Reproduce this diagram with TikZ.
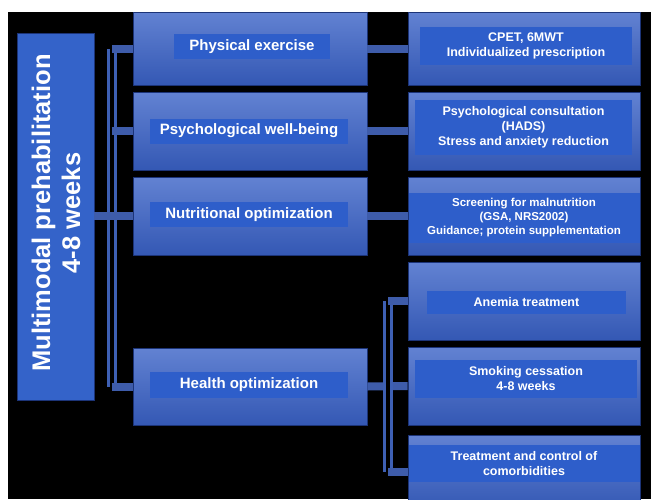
\documentclass[tikz,border=0pt]{standalone}
\usepackage{fontspec}
\setmainfont{Liberation Sans}
\definecolor{boxtop}{RGB}{98,130,210}
\definecolor{boxbot}{RGB}{52,88,180}
\definecolor{labfill}{RGB}{46,94,202}
\definecolor{mainfill}{RGB}{52,99,201}
\definecolor{barc}{RGB}{62,96,180}
\definecolor{stubc}{RGB}{62,92,170}
\definecolor{boxedge}{RGB}{28,52,120}
\begin{document}
\begin{tikzpicture}[x=1pt,y=-1pt,
  boxtwo/.style={draw=boxedge, line width=0.8pt, top color=boxtop, bottom color=boxbot, minimum width=234pt, inner sep=0pt},
  boxthree/.style={draw=boxedge, line width=0.8pt, top color=boxtop, bottom color=boxbot, minimum width=232pt, inner sep=0pt},
  labtwo/.style={fill=labfill, text=white, font=\bfseries\fontsize{15}{18}\selectfont, align=center, inner sep=0pt, minimum height=25pt},
  labthree/.style={fill=labfill, text=white, font=\bfseries\fontsize{12.5}{15}\selectfont, align=center, inner sep=0pt},
  bar/.style={draw=barc, line width=3pt, double=black, double distance=4.5pt},
  stub/.style={draw=stubc, line width=8pt}]
\useasboundingbox (0,0) rectangle (651,499);
\fill[black] (8,12) rectangle (651,499);
\begin{scope}
\clip (8,12) rectangle (651,499);
% coordinates for brackets
\coordinate (k1) at (112,0);
\coordinate (k2) at (388,0);
% level 1
\node[draw=boxedge, line width=0.8pt, fill=mainfill, minimum width=77pt, minimum height=367pt, inner sep=0pt] (main) at (55.5,216.5) {};
\node[rotate=90, text=white, font=\bfseries\fontsize{25.5}{30}\selectfont, align=center] (maint) at (56,213) {Multimodal prehabilitation\\4-8 weeks};
% level 2 boxes
\node[boxtwo, minimum height=73pt] (pe) at (250,48.5) {};
\node[boxtwo, minimum height=78pt] (pw) at (250,131) {};
\node[boxtwo, minimum height=78pt] (no) at (250,216) {};
\node[boxtwo, minimum height=77pt] (ho) at (250,386.5) {};
% right boxes
\node[boxthree, minimum height=73pt] (cp) at (524,48.5) {};
\node[boxthree, minimum height=78pt] (pc) at (524,131) {};
\node[boxthree, minimum height=78pt] (sm) at (524,216) {};
\node[boxthree, minimum height=78pt] (an) at (524,301) {};
\node[boxthree, minimum height=78pt] (sc) at (524,386) {};
\node[boxthree, minimum height=74pt] (tr) at (524,472) {};
% connectors
\draw[bar] (pe.west -| k1) -- (ho.west -| k1);
\draw[stub] (pe.west -| k1) -- (pe.west);
\draw[stub] (pw.west -| k1) -- (pw.west);
\draw[stub] (ho.west -| k1) -- (ho.west);
\draw[stub] (main.east |- no.west) -- (no.west);
\draw[stub] (pe.east) -- (cp.west);
\draw[stub] (pw.east) -- (pc.west);
\draw[stub] (no.east) -- (sm.west);
\draw[stub] (ho.east) -- (sc.west);
\draw[bar] (an.west -| k2) -- (tr.west -| k2);
\draw[stub] (an.west -| k2) -- (an.west);
\draw[stub] (tr.west -| k2) -- (tr.west);
% labels level 2
\node[labtwo, minimum width=156pt] (pel) at (252,46.5) {Physical exercise};
\node[labtwo, minimum width=198pt] (pwl) at (249,131) {Psychological well-being};
\node[labtwo, minimum width=198pt] (nol) at (249,214.5) {Nutritional optimization};
\node[labtwo, minimum width=198pt, minimum height=26pt] (hol) at (249,385) {Health optimization};
% labels right
\node[labthree, minimum width=212pt, minimum height=38pt] (cpl) at (526,46) {CPET, 6MWT\\Individualized prescription};
\node[labthree, minimum width=217pt, minimum height=55pt] (pcl) at (523.5,127.5) {Psychological consultation\\(HADS)\\Stress and anxiety reduction};
\node[labthree, minimum width=231pt, minimum height=50pt, font=\bfseries\fontsize{11.5}{14}\selectfont] (sml) at (524,218) {Screening for malnutrition\\(GSA, NRS2002)\\Guidance; protein supplementation};
\node[labthree, minimum width=199pt, minimum height=23pt] (anl) at (526.5,302.5) {Anemia treatment};
\node[labthree, minimum width=222pt, minimum height=38pt] (scl) at (526,379) {Smoking cessation\\4-8 weeks};
\node[labthree, minimum width=231pt, minimum height=37pt] (trl) at (524,463.5) {Treatment and control of\\comorbidities};
\end{scope}
\end{tikzpicture}
\end{document}
